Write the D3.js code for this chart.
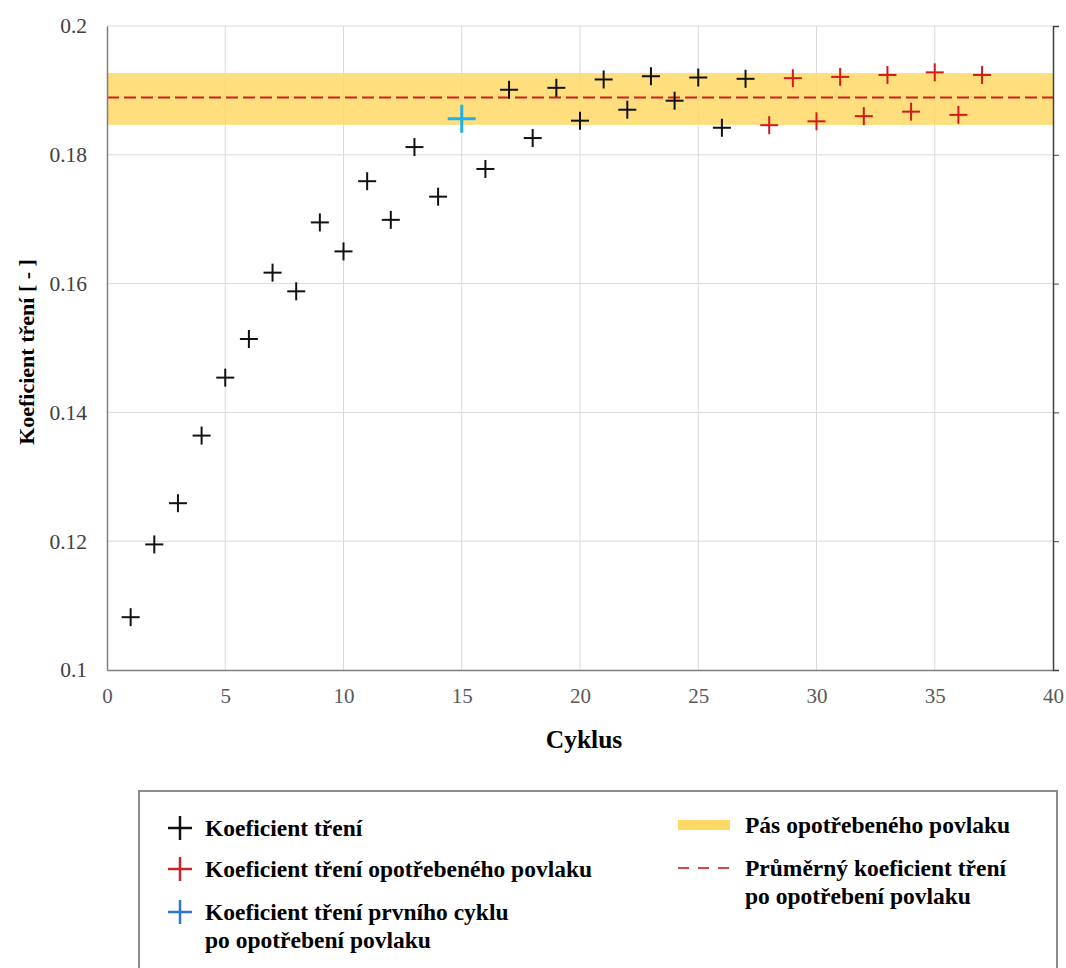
<!DOCTYPE html>
<html>
<head>
<meta charset="utf-8">
<script src="https://cdn.jsdelivr.net/npm/d3@7"></script>
<style>
  body { margin: 0; background: #fff; }
</style>
</head>
<body>
<div id="chart"></div>
<script>
// cycles 1-27: running-in of the coating
const cycles = [1, 2, 3, 4, 5, 6, 7, 8, 9, 10, 11, 12, 13, 14, 16, 17, 18, 19, 20, 21, 22, 23, 24, 25, 26, 27];
const friction = [0.1082, 0.1195, 0.1259, 0.1364, 0.1454, 0.1514, 0.1617, 0.1588, 0.1695, 0.1650, 0.1759, 0.1699, 0.1812, 0.1735,
  0.1778, 0.1901, 0.1826, 0.1904, 0.1853, 0.1917, 0.1870, 0.1922, 0.1884, 0.1920, 0.1842, 0.1918];
// worn coating
const wornCycles = [28, 29, 30, 31, 32, 33, 34, 35, 36, 37];
const wornFriction = [0.1846, 0.1919, 0.1852, 0.1921, 0.1860, 0.1924, 0.1867, 0.1928, 0.1862, 0.1924];
// first cycle after wear
const firstCycle = [15];
const firstFriction = [0.1856];
// band and mean of worn coating
const bandLow = 0.18465, bandHigh = 0.1927, meanFriction = 0.1889;

const xTicks = [0, 5, 10, 15, 20, 25, 30, 35, 40];
const yTicks = [0.1, 0.12, 0.14, 0.16, 0.18, 0.2];

const FONT = '"Liberation Serif", "Times New Roman", serif';
const width = 1066, height = 968;
const margin = { top: 26, right: 13, bottom: 298, left: 107 };
const w = width - margin.left - margin.right;
const h = height - margin.top - margin.bottom;

const svg = d3.select('#chart').append('svg')
  .attr('width', width)
  .attr('height', height)
  .style('font-family', FONT);

const g = svg.append('g')
  .attr('transform', `translate(${margin.left},${margin.top})`);

const x = d3.scaleLinear().domain([0, 40]).range([0, w]);
const y = d3.scaleLinear().domain([0.1, 0.2]).range([h, 0]);

// gridlines
g.append('g')
  .selectAll('line')
  .data(xTicks.slice(1, -1))
  .enter().append('line')
  .attr('x1', d => x(d)).attr('x2', d => x(d))
  .attr('y1', 0).attr('y2', h)
  .attr('stroke', '#d9d9d9').attr('stroke-width', 1);

g.append('g')
  .selectAll('line')
  .data(yTicks.slice(1))
  .enter().append('line')
  .attr('x1', 0).attr('x2', w)
  .attr('y1', d => y(d)).attr('y2', d => y(d))
  .attr('stroke', '#d9d9d9').attr('stroke-width', 1);

// band
g.append('rect')
  .attr('x', 0).attr('width', w)
  .attr('y', y(bandHigh)).attr('height', y(bandLow) - y(bandHigh))
  .attr('fill', '#ffd966').attr('opacity', 0.85);

// mean
g.append('line')
  .attr('x1', 0).attr('x2', w)
  .attr('y1', y(meanFriction)).attr('y2', y(meanFriction))
  .attr('stroke', '#d01f1f').attr('stroke-width', 2)
  .attr('stroke-dasharray', '12,5');

// axes
const xAxis = g.append('g')
  .attr('transform', `translate(0,${h})`)
  .call(d3.axisBottom(x).tickValues(xTicks).tickSize(0).tickPadding(18));
xAxis.attr('font-family', FONT);
xAxis.select('.domain').attr('stroke', '#7f7f7f').attr('stroke-width', 1.5);
xAxis.selectAll('text').style('font-size', '21px').style('fill', '#595959').style('font-family', FONT);

const yAxis = g.append('g')
  .call(d3.axisLeft(y).tickValues(yTicks).tickSize(0).tickPadding(20).tickFormat(d3.format('')));
yAxis.attr('font-family', FONT);
yAxis.select('.domain').attr('stroke', '#7f7f7f').attr('stroke-width', 1.5);
yAxis.selectAll('text').style('font-size', '21.5px').style('fill', '#404040').style('font-family', FONT);

const yRight = g.append('g')
  .attr('transform', `translate(${w},0)`)
  .call(d3.axisRight(y).tickValues(yTicks).tickSize(6).tickFormat(''));
yRight.select('.domain').attr('stroke', '#404040').attr('stroke-width', 1.5);
yRight.selectAll('.tick line').attr('stroke', '#404040');

// markers
function crosses(xs, ys, color, size, sw) {
  const data = xs.map((c, i) => ({ c, v: ys[i] }));
  const sel = g.append('g').selectAll('g').data(data).enter().append('g')
    .attr('transform', d => `translate(${x(d.c)},${y(d.v)})`);
  sel.append('line').attr('x1', -size / 2).attr('x2', size / 2).attr('y1', 0).attr('y2', 0)
    .attr('stroke', color).attr('stroke-width', sw);
  sel.append('line').attr('y1', -size / 2).attr('y2', size / 2).attr('x1', 0).attr('x2', 0)
    .attr('stroke', color).attr('stroke-width', sw);
}
crosses(cycles, friction, '#111', 18, 2);
crosses(wornCycles, wornFriction, '#d41a1a', 18, 2);
crosses(firstCycle, firstFriction, '#1fb1e6', 28, 3);

// axis titles
svg.append('text')
  .attr('x', 584).attr('y', 748)
  .attr('text-anchor', 'middle')
  .style('font-family', FONT)
  .style('font-size', '25.5px').style('font-weight', 'bold')
  .text('Cyklus');

svg.append('text')
  .attr('transform', `translate(34,352) rotate(-90)`)
  .attr('text-anchor', 'middle')
  .style('font-family', FONT)
  .style('font-size', '22px').style('font-weight', 'bold')
  .text('Koeficient tření [ - ]');

// legend
const lg = svg.append('g');
lg.append('rect')
  .attr('x', 139).attr('y', 791).attr('width', 918).attr('height', 200)
  .attr('fill', 'none').attr('stroke', '#8c8c8c').attr('stroke-width', 2);

const legendLeft = [
  { color: '#111', lines: ['Koeficient tření'], y: 828 },
  { color: '#c9262c', lines: ['Koeficient tření opotřebeného povlaku'], y: 869 },
  { color: '#2e75cf', lines: ['Koeficient tření prvního cyklu', 'po opotřebení povlaku'], y: 912 }
];
function legendText(sel, t, ty) {
  sel.append('text').attr('x', 0).attr('y', ty)
    .style('font-family', FONT).style('font-size', '23.5px').style('font-weight', 'bold').text(t);
}
legendLeft.forEach(d => {
  const it = lg.append('g').attr('transform', `translate(180,${d.y})`);
  it.append('line').attr('x1', -12).attr('x2', 12).attr('stroke', d.color).attr('stroke-width', 2.5);
  it.append('line').attr('y1', -12).attr('y2', 12).attr('stroke', d.color).attr('stroke-width', 2.5);
  const tg = it.append('g').attr('transform', 'translate(25,0)');
  d.lines.forEach((t, i) => legendText(tg, t, 8 + i * 28));
});

const it1 = lg.append('g').attr('transform', 'translate(678,825)');
it1.append('rect').attr('x', 0).attr('y', -5).attr('width', 52).attr('height', 10).attr('fill', '#ffd966');
legendText(it1.append('g').attr('transform', 'translate(67,0)'), 'Pás opotřebeného povlaku', 8);

const it2 = lg.append('g').attr('transform', 'translate(678,868)');
it2.append('line').attr('x1', 0).attr('x2', 52).attr('stroke', '#d04848').attr('stroke-width', 2)
  .attr('stroke-dasharray', '11,9');
const t2 = it2.append('g').attr('transform', 'translate(67,0)');
legendText(t2, 'Průměrný koeficient tření', 8);
legendText(t2, 'po opotřebení povlaku', 36);
</script>
</body>
</html>
